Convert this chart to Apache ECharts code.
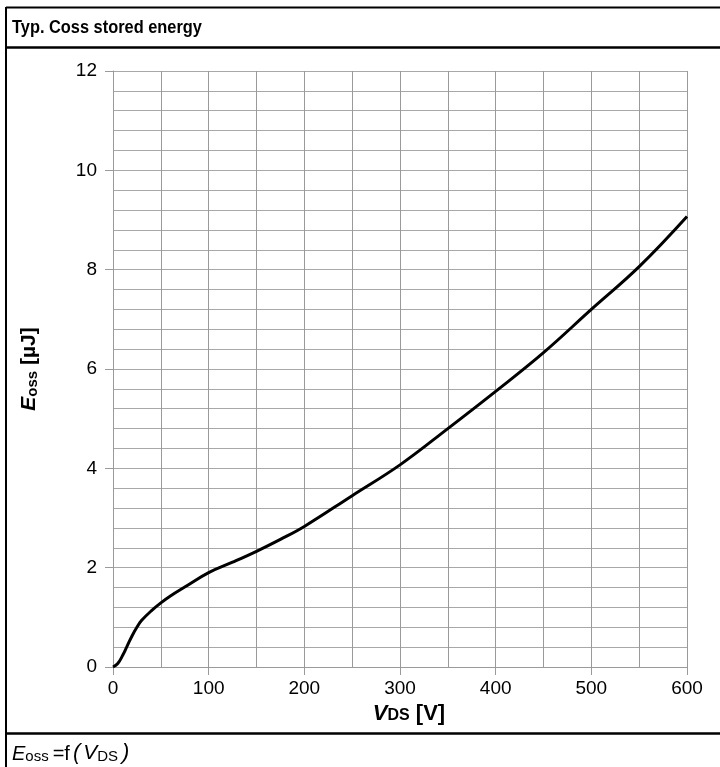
<!DOCTYPE html>
<html>
<head>
<meta charset="utf-8">
<script src="https://cdn.jsdelivr.net/npm/echarts@6/dist/echarts.min.js"></script>
<style>
html,body{margin:0;padding:0;background:#fff;}
#c{width:720px;height:767px;}
</style>
</head>
<body>
<div id="c"></div>
<script>
var titleText = 'Typ. Coss stored energy';
var vds = [0, 5, 10, 15, 20, 25, 30, 40, 50, 60, 75, 100, 125, 150, 175, 200, 250, 300, 350, 400, 450, 500, 550, 600];
var eoss = [0, 0.07, 0.23, 0.43, 0.63, 0.8, 0.94, 1.13, 1.29, 1.43, 1.61, 1.9, 2.11, 2.33, 2.57, 2.83, 3.45, 4.07, 4.8, 5.55, 6.33, 7.2, 8.06, 9.07];
var xTicks = [0, 100, 200, 300, 400, 500, 600];
var yTicks = [0, 2, 4, 6, 8, 10, 12];

var FONT = '"Liberation Sans", Arial, Helvetica, sans-serif';
var data = vds.map(function (v, i) { return [v, eoss[i]]; });

var chart = echarts.init(document.getElementById('c'), null, {renderer: 'canvas'});
var gridColor = '#9a9a9a';
var minorColor = '#a8a8a8';

chart.setOption({
  animation: false,
  backgroundColor: '#fff',
  textStyle: {fontFamily: FONT},
  grid: {left: 113, right: 33, top: 71, bottom: 100, containLabel: false},
  xAxis: {
    type: 'value',
    min: xTicks[0], max: xTicks[xTicks.length - 1], interval: xTicks[1] - xTicks[0],
    axisLine: {show: true, lineStyle: {color: gridColor, width: 1}},
    axisTick: {show: true, length: 8, lineStyle: {color: gridColor}},
    axisLabel: {color: '#000', fontSize: 19, fontFamily: FONT, margin: 12},
    splitLine: {show: true, lineStyle: {color: gridColor, width: 1}},
    minorTick: {show: false, splitNumber: 2},
    minorSplitLine: {show: true, lineStyle: {color: gridColor, width: 1}},
    name: '{v|V}{s|DS}{b| [V]}',
    nameLocation: 'middle',
    nameGap: 36,
    nameTextStyle: {
      rich: {
        v: {fontSize: 22, fontWeight: 'bold', fontStyle: 'italic', fontFamily: FONT, color: '#000', verticalAlign: 'bottom', padding: [0, 0, 0, 18]},
        s: {fontSize: 16, fontWeight: 'bold', fontFamily: FONT, color: '#000', verticalAlign: 'bottom', padding: [0, 0, 1, 0]},
        b: {fontSize: 22, fontWeight: 'bold', fontFamily: FONT, color: '#000', verticalAlign: 'bottom'}
      }
    }
  },
  yAxis: {
    type: 'value',
    min: yTicks[0], max: yTicks[yTicks.length - 1], interval: yTicks[1] - yTicks[0],
    axisLine: {show: true, lineStyle: {color: gridColor, width: 1}},
    axisTick: {show: true, length: 8, lineStyle: {color: gridColor}},
    axisLabel: {color: '#000', fontSize: 19, fontFamily: FONT, margin: 16},
    splitLine: {show: true, lineStyle: {color: minorColor, width: 1}},
    minorTick: {show: false, splitNumber: 5},
    minorSplitLine: {show: true, lineStyle: {color: minorColor, width: 1}},
    name: '{v|E}{s|oss}{b| [µJ]}',
    nameLocation: 'middle',
    nameGap: 73,
    nameRotate: 90,
    nameTextStyle: {
      rich: {
        v: {fontSize: 21, fontWeight: 'bold', fontStyle: 'italic', fontFamily: FONT, color: '#000', verticalAlign: 'bottom'},
        s: {fontSize: 15, fontWeight: 'bold', fontFamily: FONT, color: '#000', verticalAlign: 'bottom'},
        b: {fontSize: 21, fontWeight: 'bold', fontFamily: FONT, color: '#000', verticalAlign: 'bottom'}
      }
    }
  },
  series: [{
    type: 'line',
    data: data,
    smooth: 0.4,
    symbol: 'none',
    lineStyle: {color: '#000', width: 3},
    z: 5
  }],
  graphic: [
    {type: 'line', shape: {x1: 6, y1: 7.5, x2: 720, y2: 7.5}, style: {stroke: '#000', lineWidth: 2}},
    {type: 'line', shape: {x1: 6, y1: 7, x2: 6, y2: 767}, style: {stroke: '#000', lineWidth: 2}},
    {type: 'line', shape: {x1: 6, y1: 47.5, x2: 720, y2: 47.5}, style: {stroke: '#000', lineWidth: 2.5}},
    {type: 'line', shape: {x1: 6, y1: 733.5, x2: 720, y2: 733.5}, style: {stroke: '#000', lineWidth: 2.5}},
    {type: 'text', x: 12, y: 28, scaleX: 0.91, style: {text: titleText, font: 'bold 18px ' + FONT, fill: '#000', verticalAlign: 'middle'}},
    {type: 'text', x: 12, y: 753, style: {
      text: '{e|E}{s|oss}{n|=f}{p|(}{v|V}{s|DS}{q|)}',
      verticalAlign: 'middle',
      rich: {
        e: {fontSize: 20, fontStyle: 'italic', fontFamily: FONT, fill: '#000', verticalAlign: 'bottom'},
        v: {fontSize: 21, fontStyle: 'italic', fontFamily: FONT, fill: '#000', verticalAlign: 'bottom', padding: [0, 0, 0, 3]},
        s: {fontSize: 15, fontFamily: FONT, fill: '#000', verticalAlign: 'bottom', padding: [0, 4, 0, 0]},
        n: {fontSize: 20, fontFamily: FONT, fill: '#000', verticalAlign: 'bottom', padding: [0, 3, 0, 0]},
        p: {fontSize: 22, fontStyle: 'italic', fontFamily: FONT, fill: '#000', verticalAlign: 'bottom'},
        q: {fontSize: 22, fontStyle: 'italic', fontFamily: FONT, fill: '#000', verticalAlign: 'bottom'}
      }
    }}
  ]
});
</script>
</body>
</html>
